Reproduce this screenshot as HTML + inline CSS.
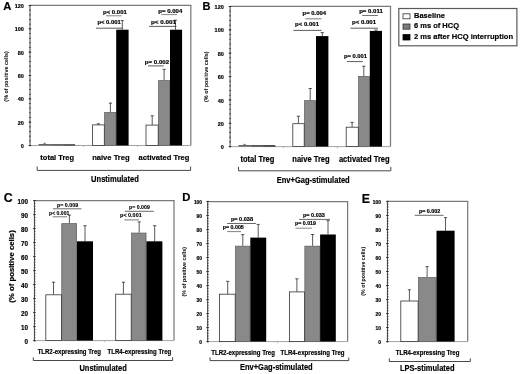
<!DOCTYPE html>
<html><head><meta charset="utf-8"><style>
html,body{margin:0;padding:0;background:#fff;}
body{width:520px;height:374px;overflow:hidden;}
svg{display:block;font-family:"Liberation Sans", sans-serif;will-change:transform;}
</style></head><body>
<svg width="520" height="374" viewBox="0 0 520 374" font-family='"Liberation Sans", sans-serif'>
<rect x="0" y="0" width="520" height="374" fill="#fff"/>
<line x1="30.00" y1="5.40" x2="191.40" y2="5.40" stroke="#7a7a7a" stroke-width="1.25"/>
<line x1="190.80" y1="5.40" x2="190.80" y2="145.50" stroke="#7a7a7a" stroke-width="1.25"/>
<line x1="30.00" y1="145.50" x2="190.80" y2="145.50" stroke="#9a9a9a" stroke-width="0.9"/>
<line x1="30.00" y1="5.00" x2="30.00" y2="146.30" stroke="#444" stroke-width="1.0"/>
<line x1="29.20" y1="145.50" x2="30.80" y2="145.50" stroke="#222" stroke-width="0.8"/>
<line x1="29.20" y1="140.83" x2="30.80" y2="140.83" stroke="#222" stroke-width="0.8"/>
<line x1="29.20" y1="136.17" x2="30.80" y2="136.17" stroke="#222" stroke-width="0.8"/>
<line x1="29.20" y1="131.50" x2="30.80" y2="131.50" stroke="#222" stroke-width="0.8"/>
<line x1="29.20" y1="126.83" x2="30.80" y2="126.83" stroke="#222" stroke-width="0.8"/>
<line x1="29.20" y1="122.17" x2="30.80" y2="122.17" stroke="#222" stroke-width="0.8"/>
<line x1="29.20" y1="117.50" x2="30.80" y2="117.50" stroke="#222" stroke-width="0.8"/>
<line x1="29.20" y1="112.83" x2="30.80" y2="112.83" stroke="#222" stroke-width="0.8"/>
<line x1="29.20" y1="108.17" x2="30.80" y2="108.17" stroke="#222" stroke-width="0.8"/>
<line x1="29.20" y1="103.50" x2="30.80" y2="103.50" stroke="#222" stroke-width="0.8"/>
<line x1="29.20" y1="98.83" x2="30.80" y2="98.83" stroke="#222" stroke-width="0.8"/>
<line x1="29.20" y1="94.17" x2="30.80" y2="94.17" stroke="#222" stroke-width="0.8"/>
<line x1="29.20" y1="89.50" x2="30.80" y2="89.50" stroke="#222" stroke-width="0.8"/>
<line x1="29.20" y1="84.83" x2="30.80" y2="84.83" stroke="#222" stroke-width="0.8"/>
<line x1="29.20" y1="80.17" x2="30.80" y2="80.17" stroke="#222" stroke-width="0.8"/>
<line x1="29.20" y1="75.50" x2="30.80" y2="75.50" stroke="#222" stroke-width="0.8"/>
<line x1="29.20" y1="70.83" x2="30.80" y2="70.83" stroke="#222" stroke-width="0.8"/>
<line x1="29.20" y1="66.17" x2="30.80" y2="66.17" stroke="#222" stroke-width="0.8"/>
<line x1="29.20" y1="61.50" x2="30.80" y2="61.50" stroke="#222" stroke-width="0.8"/>
<line x1="29.20" y1="56.83" x2="30.80" y2="56.83" stroke="#222" stroke-width="0.8"/>
<line x1="29.20" y1="52.17" x2="30.80" y2="52.17" stroke="#222" stroke-width="0.8"/>
<line x1="29.20" y1="47.50" x2="30.80" y2="47.50" stroke="#222" stroke-width="0.8"/>
<line x1="29.20" y1="42.83" x2="30.80" y2="42.83" stroke="#222" stroke-width="0.8"/>
<line x1="29.20" y1="38.17" x2="30.80" y2="38.17" stroke="#222" stroke-width="0.8"/>
<line x1="29.20" y1="33.50" x2="30.80" y2="33.50" stroke="#222" stroke-width="0.8"/>
<line x1="29.20" y1="28.83" x2="30.80" y2="28.83" stroke="#222" stroke-width="0.8"/>
<line x1="29.20" y1="24.17" x2="30.80" y2="24.17" stroke="#222" stroke-width="0.8"/>
<line x1="29.20" y1="19.50" x2="30.80" y2="19.50" stroke="#222" stroke-width="0.8"/>
<line x1="29.20" y1="14.83" x2="30.80" y2="14.83" stroke="#222" stroke-width="0.8"/>
<line x1="29.20" y1="10.17" x2="30.80" y2="10.17" stroke="#222" stroke-width="0.8"/>
<line x1="29.20" y1="5.50" x2="30.80" y2="5.50" stroke="#222" stroke-width="0.8"/>
<line x1="28.60" y1="145.50" x2="31.20" y2="145.50" stroke="#222" stroke-width="0.8"/>
<text x="23.90" y="148.10" font-size="5.5" font-weight="bold" text-anchor="end" fill="#000" stroke="#000" stroke-width="0.18">0</text>
<line x1="28.60" y1="122.17" x2="31.20" y2="122.17" stroke="#222" stroke-width="0.8"/>
<text x="23.90" y="124.77" font-size="5.5" font-weight="bold" text-anchor="end" fill="#000" stroke="#000" stroke-width="0.18">20</text>
<line x1="28.60" y1="98.83" x2="31.20" y2="98.83" stroke="#222" stroke-width="0.8"/>
<text x="23.90" y="101.43" font-size="5.5" font-weight="bold" text-anchor="end" fill="#000" stroke="#000" stroke-width="0.18">40</text>
<line x1="28.60" y1="75.50" x2="31.20" y2="75.50" stroke="#222" stroke-width="0.8"/>
<text x="23.90" y="78.10" font-size="5.5" font-weight="bold" text-anchor="end" fill="#000" stroke="#000" stroke-width="0.18">60</text>
<line x1="28.60" y1="52.17" x2="31.20" y2="52.17" stroke="#222" stroke-width="0.8"/>
<text x="23.90" y="54.77" font-size="5.5" font-weight="bold" text-anchor="end" fill="#000" stroke="#000" stroke-width="0.18">80</text>
<line x1="28.60" y1="28.83" x2="31.20" y2="28.83" stroke="#222" stroke-width="0.8"/>
<text x="23.90" y="31.43" font-size="5.5" font-weight="bold" text-anchor="end" fill="#000" stroke="#000" stroke-width="0.18">100</text>
<line x1="28.60" y1="5.50" x2="31.20" y2="5.50" stroke="#222" stroke-width="0.8"/>
<text x="23.90" y="8.10" font-size="5.5" font-weight="bold" text-anchor="end" fill="#000" stroke="#000" stroke-width="0.18">120</text>
<text x="3.30" y="10.10" font-size="11.2" font-weight="bold" text-anchor="start" fill="#000" stroke="#000" stroke-width="0.18">A</text>
<text x="8.00" y="76.40" font-size="5.5" font-weight="bold" text-anchor="middle" fill="#000" textLength="50.50" lengthAdjust="spacingAndGlyphs" transform="rotate(-90 8.00 76.40)">(% of positive cells)</text>
<rect x="38.60" y="144.00" width="12.20" height="1.50" fill="#666" stroke="none" stroke-width="0.8"/>
<rect x="50.80" y="144.20" width="12.10" height="1.30" fill="#444" stroke="none" stroke-width="0.8"/>
<rect x="62.90" y="144.30" width="12.20" height="1.20" fill="#222" stroke="none" stroke-width="0.8"/>
<line x1="44.60" y1="143.30" x2="44.60" y2="144.00" stroke="#555" stroke-width="0.75"/>
<line x1="43.40" y1="143.30" x2="45.80" y2="143.30" stroke="#555" stroke-width="0.75"/>
<line x1="98.40" y1="123.80" x2="98.40" y2="125.00" stroke="#222" stroke-width="0.75"/>
<line x1="96.80" y1="123.80" x2="100.00" y2="123.80" stroke="#222" stroke-width="0.75"/>
<line x1="110.40" y1="103.10" x2="110.40" y2="112.10" stroke="#222" stroke-width="0.75"/>
<line x1="108.80" y1="103.10" x2="112.00" y2="103.10" stroke="#222" stroke-width="0.75"/>
<line x1="122.30" y1="20.60" x2="122.30" y2="29.70" stroke="#222" stroke-width="0.75"/>
<line x1="120.70" y1="20.60" x2="123.90" y2="20.60" stroke="#222" stroke-width="0.75"/>
<rect x="104.65" y="112.45" width="11.20" height="33.05" fill="#898989" stroke="#5a5a5a" stroke-width="0.7"/>
<rect x="116.20" y="29.70" width="12.40" height="115.80" fill="#000" stroke="none" stroke-width="0.8"/>
<rect x="92.50" y="124.90" width="11.80" height="20.60" fill="#fff" stroke="#333" stroke-width="0.8"/>
<line x1="152.20" y1="115.80" x2="152.20" y2="125.20" stroke="#222" stroke-width="0.75"/>
<line x1="150.60" y1="115.80" x2="153.80" y2="115.80" stroke="#222" stroke-width="0.75"/>
<line x1="164.10" y1="69.30" x2="164.10" y2="80.40" stroke="#222" stroke-width="0.75"/>
<line x1="162.50" y1="69.30" x2="165.70" y2="69.30" stroke="#222" stroke-width="0.75"/>
<line x1="175.50" y1="20.20" x2="175.50" y2="29.70" stroke="#222" stroke-width="0.75"/>
<line x1="173.90" y1="20.20" x2="177.10" y2="20.20" stroke="#222" stroke-width="0.75"/>
<rect x="158.55" y="80.65" width="11.10" height="64.85" fill="#898989" stroke="#5a5a5a" stroke-width="0.7"/>
<rect x="170.00" y="29.70" width="12.10" height="115.80" fill="#000" stroke="none" stroke-width="0.8"/>
<rect x="146.00" y="125.10" width="12.20" height="20.40" fill="#fff" stroke="#333" stroke-width="0.8"/>
<line x1="83.50" y1="145.50" x2="83.50" y2="147.00" stroke="#999" stroke-width="0.7"/>
<line x1="137.50" y1="145.50" x2="137.50" y2="147.00" stroke="#999" stroke-width="0.7"/>
<text x="103.00" y="14.30" font-size="5.6" font-weight="bold" text-anchor="start" fill="#000" stroke="#000" stroke-width="0.18" textLength="23.80" lengthAdjust="spacingAndGlyphs">p&lt; 0.001</text>
<line x1="106.00" y1="15.80" x2="121.60" y2="15.80" stroke="#666" stroke-width="0.8"/>
<text x="97.40" y="23.70" font-size="5.6" font-weight="bold" text-anchor="start" fill="#000" stroke="#000" stroke-width="0.18" textLength="23.30" lengthAdjust="spacingAndGlyphs">p&lt; 0.001</text>
<line x1="95.90" y1="28.20" x2="122.70" y2="28.20" stroke="#333" stroke-width="0.8"/>
<text x="158.30" y="13.10" font-size="5.6" font-weight="bold" text-anchor="start" fill="#000" stroke="#000" stroke-width="0.18" textLength="24.00" lengthAdjust="spacingAndGlyphs">p= 0.004</text>
<line x1="161.20" y1="14.60" x2="177.00" y2="14.60" stroke="#666" stroke-width="0.8"/>
<text x="151.00" y="24.10" font-size="5.6" font-weight="bold" text-anchor="start" fill="#000" stroke="#000" stroke-width="0.18" textLength="25.00" lengthAdjust="spacingAndGlyphs">p&lt; 0.001</text>
<line x1="149.10" y1="26.40" x2="176.50" y2="26.40" stroke="#333" stroke-width="0.8"/>
<text x="144.80" y="64.10" font-size="5.6" font-weight="bold" text-anchor="start" fill="#000" stroke="#000" stroke-width="0.18" textLength="24.30" lengthAdjust="spacingAndGlyphs">p= 0.002</text>
<line x1="148.00" y1="65.90" x2="163.70" y2="65.90" stroke="#333" stroke-width="0.8"/>
<text x="57.20" y="160.30" font-size="8.1" font-weight="bold" text-anchor="middle" fill="#000" stroke="#000" stroke-width="0.18" textLength="33.70" lengthAdjust="spacingAndGlyphs">total Treg</text>
<text x="110.90" y="160.30" font-size="8.1" font-weight="bold" text-anchor="middle" fill="#000" stroke="#000" stroke-width="0.18" textLength="37.50" lengthAdjust="spacingAndGlyphs">naive Treg</text>
<text x="164.00" y="160.30" font-size="8.1" font-weight="bold" text-anchor="middle" fill="#000" stroke="#000" stroke-width="0.18" textLength="50.90" lengthAdjust="spacingAndGlyphs">activated Treg</text>
<line x1="37.20" y1="166.60" x2="37.20" y2="170.40" stroke="#333" stroke-width="0.9"/>
<line x1="190.60" y1="166.60" x2="190.60" y2="170.40" stroke="#333" stroke-width="0.9"/>
<line x1="37.20" y1="170.40" x2="190.60" y2="170.40" stroke="#333" stroke-width="0.9"/>
<text x="115.00" y="182.20" font-size="8.3" font-weight="bold" text-anchor="middle" fill="#000" stroke="#000" stroke-width="0.18" textLength="47.80" lengthAdjust="spacingAndGlyphs">Unstimulated</text>
<line x1="230.10" y1="6.40" x2="391.10" y2="6.40" stroke="#7a7a7a" stroke-width="1.25"/>
<line x1="390.50" y1="6.40" x2="390.50" y2="146.60" stroke="#7a7a7a" stroke-width="1.25"/>
<line x1="230.10" y1="146.60" x2="390.50" y2="146.60" stroke="#9a9a9a" stroke-width="0.9"/>
<line x1="230.10" y1="6.00" x2="230.10" y2="147.40" stroke="#444" stroke-width="1.0"/>
<line x1="229.30" y1="146.60" x2="230.90" y2="146.60" stroke="#222" stroke-width="0.8"/>
<line x1="229.30" y1="141.93" x2="230.90" y2="141.93" stroke="#222" stroke-width="0.8"/>
<line x1="229.30" y1="137.26" x2="230.90" y2="137.26" stroke="#222" stroke-width="0.8"/>
<line x1="229.30" y1="132.59" x2="230.90" y2="132.59" stroke="#222" stroke-width="0.8"/>
<line x1="229.30" y1="127.92" x2="230.90" y2="127.92" stroke="#222" stroke-width="0.8"/>
<line x1="229.30" y1="123.25" x2="230.90" y2="123.25" stroke="#222" stroke-width="0.8"/>
<line x1="229.30" y1="118.58" x2="230.90" y2="118.58" stroke="#222" stroke-width="0.8"/>
<line x1="229.30" y1="113.91" x2="230.90" y2="113.91" stroke="#222" stroke-width="0.8"/>
<line x1="229.30" y1="109.24" x2="230.90" y2="109.24" stroke="#222" stroke-width="0.8"/>
<line x1="229.30" y1="104.57" x2="230.90" y2="104.57" stroke="#222" stroke-width="0.8"/>
<line x1="229.30" y1="99.90" x2="230.90" y2="99.90" stroke="#222" stroke-width="0.8"/>
<line x1="229.30" y1="95.23" x2="230.90" y2="95.23" stroke="#222" stroke-width="0.8"/>
<line x1="229.30" y1="90.56" x2="230.90" y2="90.56" stroke="#222" stroke-width="0.8"/>
<line x1="229.30" y1="85.89" x2="230.90" y2="85.89" stroke="#222" stroke-width="0.8"/>
<line x1="229.30" y1="81.22" x2="230.90" y2="81.22" stroke="#222" stroke-width="0.8"/>
<line x1="229.30" y1="76.55" x2="230.90" y2="76.55" stroke="#222" stroke-width="0.8"/>
<line x1="229.30" y1="71.88" x2="230.90" y2="71.88" stroke="#222" stroke-width="0.8"/>
<line x1="229.30" y1="67.21" x2="230.90" y2="67.21" stroke="#222" stroke-width="0.8"/>
<line x1="229.30" y1="62.54" x2="230.90" y2="62.54" stroke="#222" stroke-width="0.8"/>
<line x1="229.30" y1="57.87" x2="230.90" y2="57.87" stroke="#222" stroke-width="0.8"/>
<line x1="229.30" y1="53.20" x2="230.90" y2="53.20" stroke="#222" stroke-width="0.8"/>
<line x1="229.30" y1="48.53" x2="230.90" y2="48.53" stroke="#222" stroke-width="0.8"/>
<line x1="229.30" y1="43.86" x2="230.90" y2="43.86" stroke="#222" stroke-width="0.8"/>
<line x1="229.30" y1="39.19" x2="230.90" y2="39.19" stroke="#222" stroke-width="0.8"/>
<line x1="229.30" y1="34.52" x2="230.90" y2="34.52" stroke="#222" stroke-width="0.8"/>
<line x1="229.30" y1="29.85" x2="230.90" y2="29.85" stroke="#222" stroke-width="0.8"/>
<line x1="229.30" y1="25.18" x2="230.90" y2="25.18" stroke="#222" stroke-width="0.8"/>
<line x1="229.30" y1="20.51" x2="230.90" y2="20.51" stroke="#222" stroke-width="0.8"/>
<line x1="229.30" y1="15.84" x2="230.90" y2="15.84" stroke="#222" stroke-width="0.8"/>
<line x1="229.30" y1="11.17" x2="230.90" y2="11.17" stroke="#222" stroke-width="0.8"/>
<line x1="229.30" y1="6.50" x2="230.90" y2="6.50" stroke="#222" stroke-width="0.8"/>
<line x1="228.70" y1="146.60" x2="231.30" y2="146.60" stroke="#222" stroke-width="0.8"/>
<text x="223.80" y="149.20" font-size="5.5" font-weight="bold" text-anchor="end" fill="#000" stroke="#000" stroke-width="0.18">0</text>
<line x1="228.70" y1="123.25" x2="231.30" y2="123.25" stroke="#222" stroke-width="0.8"/>
<text x="223.80" y="125.85" font-size="5.5" font-weight="bold" text-anchor="end" fill="#000" stroke="#000" stroke-width="0.18">20</text>
<line x1="228.70" y1="99.90" x2="231.30" y2="99.90" stroke="#222" stroke-width="0.8"/>
<text x="223.80" y="102.50" font-size="5.5" font-weight="bold" text-anchor="end" fill="#000" stroke="#000" stroke-width="0.18">40</text>
<line x1="228.70" y1="76.55" x2="231.30" y2="76.55" stroke="#222" stroke-width="0.8"/>
<text x="223.80" y="79.15" font-size="5.5" font-weight="bold" text-anchor="end" fill="#000" stroke="#000" stroke-width="0.18">60</text>
<line x1="228.70" y1="53.20" x2="231.30" y2="53.20" stroke="#222" stroke-width="0.8"/>
<text x="223.80" y="55.80" font-size="5.5" font-weight="bold" text-anchor="end" fill="#000" stroke="#000" stroke-width="0.18">80</text>
<line x1="228.70" y1="29.85" x2="231.30" y2="29.85" stroke="#222" stroke-width="0.8"/>
<text x="223.80" y="32.45" font-size="5.5" font-weight="bold" text-anchor="end" fill="#000" stroke="#000" stroke-width="0.18">100</text>
<line x1="228.70" y1="6.50" x2="231.30" y2="6.50" stroke="#222" stroke-width="0.8"/>
<text x="223.80" y="9.10" font-size="5.5" font-weight="bold" text-anchor="end" fill="#000" stroke="#000" stroke-width="0.18">120</text>
<text x="202.60" y="10.10" font-size="11.1" font-weight="bold" text-anchor="start" fill="#000" stroke="#000" stroke-width="0.18">B</text>
<text x="208.40" y="76.70" font-size="5.5" font-weight="bold" text-anchor="middle" fill="#000" textLength="50.50" lengthAdjust="spacingAndGlyphs" transform="rotate(-90 208.40 76.70)">(% of positive cells)</text>
<rect x="238.50" y="145.00" width="12.10" height="1.60" fill="#666" stroke="none" stroke-width="0.8"/>
<rect x="250.60" y="145.10" width="12.30" height="1.50" fill="#444" stroke="none" stroke-width="0.8"/>
<rect x="262.90" y="145.20" width="12.40" height="1.40" fill="#222" stroke="none" stroke-width="0.8"/>
<line x1="244.60" y1="144.40" x2="244.60" y2="145.00" stroke="#555" stroke-width="0.75"/>
<line x1="243.40" y1="144.40" x2="245.80" y2="144.40" stroke="#555" stroke-width="0.75"/>
<line x1="298.40" y1="116.20" x2="298.40" y2="123.70" stroke="#222" stroke-width="0.75"/>
<line x1="296.80" y1="116.20" x2="300.00" y2="116.20" stroke="#222" stroke-width="0.75"/>
<line x1="310.20" y1="88.50" x2="310.20" y2="100.30" stroke="#222" stroke-width="0.75"/>
<line x1="308.60" y1="88.50" x2="311.80" y2="88.50" stroke="#222" stroke-width="0.75"/>
<line x1="322.30" y1="32.60" x2="322.30" y2="36.20" stroke="#222" stroke-width="0.75"/>
<line x1="320.70" y1="32.60" x2="323.90" y2="32.60" stroke="#222" stroke-width="0.75"/>
<rect x="304.55" y="100.65" width="11.10" height="45.95" fill="#898989" stroke="#5a5a5a" stroke-width="0.7"/>
<rect x="316.00" y="36.10" width="12.40" height="110.50" fill="#000" stroke="none" stroke-width="0.8"/>
<rect x="292.80" y="123.70" width="11.40" height="22.90" fill="#fff" stroke="#333" stroke-width="0.8"/>
<line x1="352.10" y1="122.40" x2="352.10" y2="127.20" stroke="#222" stroke-width="0.75"/>
<line x1="350.50" y1="122.40" x2="353.70" y2="122.40" stroke="#222" stroke-width="0.75"/>
<line x1="363.80" y1="66.20" x2="363.80" y2="76.10" stroke="#222" stroke-width="0.75"/>
<line x1="362.20" y1="66.20" x2="365.40" y2="66.20" stroke="#222" stroke-width="0.75"/>
<line x1="376.00" y1="30.00" x2="376.00" y2="30.90" stroke="#222" stroke-width="0.75"/>
<line x1="374.40" y1="30.00" x2="377.60" y2="30.00" stroke="#222" stroke-width="0.75"/>
<rect x="358.65" y="76.45" width="10.80" height="70.15" fill="#898989" stroke="#5a5a5a" stroke-width="0.7"/>
<rect x="369.80" y="30.90" width="12.20" height="115.70" fill="#000" stroke="none" stroke-width="0.8"/>
<rect x="346.20" y="127.20" width="12.10" height="19.40" fill="#fff" stroke="#333" stroke-width="0.8"/>
<line x1="283.50" y1="146.60" x2="283.50" y2="148.10" stroke="#999" stroke-width="0.7"/>
<line x1="337.50" y1="146.60" x2="337.50" y2="148.10" stroke="#999" stroke-width="0.7"/>
<text x="302.60" y="15.10" font-size="5.6" font-weight="bold" text-anchor="start" fill="#000" stroke="#000" stroke-width="0.18" textLength="23.40" lengthAdjust="spacingAndGlyphs">p= 0.004</text>
<line x1="305.40" y1="18.80" x2="321.30" y2="18.80" stroke="#555" stroke-width="0.8"/>
<text x="295.10" y="26.00" font-size="5.6" font-weight="bold" text-anchor="start" fill="#000" stroke="#000" stroke-width="0.18" textLength="23.90" lengthAdjust="spacingAndGlyphs">p&lt; 0.001</text>
<line x1="293.30" y1="30.40" x2="321.60" y2="30.40" stroke="#333" stroke-width="0.8"/>
<text x="359.20" y="12.60" font-size="5.6" font-weight="bold" text-anchor="start" fill="#000" stroke="#000" stroke-width="0.18" textLength="23.60" lengthAdjust="spacingAndGlyphs">p= 0.011</text>
<line x1="362.10" y1="15.50" x2="378.00" y2="15.50" stroke="#555" stroke-width="0.8"/>
<text x="352.00" y="23.50" font-size="5.6" font-weight="bold" text-anchor="start" fill="#000" stroke="#000" stroke-width="0.18" textLength="24.00" lengthAdjust="spacingAndGlyphs">p&lt; 0.001</text>
<line x1="350.40" y1="28.20" x2="378.00" y2="28.20" stroke="#333" stroke-width="0.8"/>
<text x="344.10" y="58.40" font-size="5.6" font-weight="bold" text-anchor="start" fill="#000" stroke="#000" stroke-width="0.18" textLength="22.90" lengthAdjust="spacingAndGlyphs">p= 0.001</text>
<line x1="347.00" y1="61.60" x2="363.00" y2="61.60" stroke="#333" stroke-width="0.8"/>
<text x="257.40" y="161.70" font-size="8.3" font-weight="bold" text-anchor="middle" fill="#000" stroke="#000" stroke-width="0.18" textLength="34.00" lengthAdjust="spacingAndGlyphs">total Treg</text>
<text x="311.00" y="161.70" font-size="8.3" font-weight="bold" text-anchor="middle" fill="#000" stroke="#000" stroke-width="0.18" textLength="37.40" lengthAdjust="spacingAndGlyphs">naive Treg</text>
<text x="364.30" y="161.70" font-size="8.3" font-weight="bold" text-anchor="middle" fill="#000" stroke="#000" stroke-width="0.18" textLength="50.80" lengthAdjust="spacingAndGlyphs">activated Treg</text>
<line x1="238.50" y1="166.80" x2="238.50" y2="170.80" stroke="#333" stroke-width="0.9"/>
<line x1="390.80" y1="166.80" x2="390.80" y2="170.80" stroke="#333" stroke-width="0.9"/>
<line x1="238.50" y1="170.80" x2="390.80" y2="170.80" stroke="#333" stroke-width="0.9"/>
<text x="313.20" y="183.00" font-size="8.3" font-weight="bold" text-anchor="middle" fill="#000" stroke="#000" stroke-width="0.18" textLength="73.00" lengthAdjust="spacingAndGlyphs">Env+Gag-stimulated</text>
<rect x="398.80" y="8.50" width="118.10" height="37.30" fill="#fff" stroke="#5a5a5a" stroke-width="1.2"/>
<rect x="403.00" y="13.80" width="7.00" height="5.00" fill="#fff" stroke="#333" stroke-width="0.8"/>
<rect x="403.00" y="24.00" width="7.00" height="5.20" fill="#7a7a7a" stroke="#333" stroke-width="0.8"/>
<rect x="403.00" y="34.60" width="7.00" height="5.40" fill="#000" stroke="#000" stroke-width="0.8"/>
<text x="414.00" y="17.80" font-size="7.5" font-weight="bold" text-anchor="start" fill="#000" stroke="#000" stroke-width="0.18" textLength="30.90" lengthAdjust="spacingAndGlyphs">Baseline</text>
<text x="414.00" y="28.40" font-size="7.5" font-weight="bold" text-anchor="start" fill="#000" stroke="#000" stroke-width="0.18" textLength="45.00" lengthAdjust="spacingAndGlyphs">6 ms of HCQ</text>
<text x="414.00" y="39.20" font-size="7.5" font-weight="bold" text-anchor="start" fill="#000" stroke="#000" stroke-width="0.18" textLength="99.00" lengthAdjust="spacingAndGlyphs">2 ms after HCQ interruption</text>
<line x1="34.40" y1="200.60" x2="174.60" y2="200.60" stroke="#7a7a7a" stroke-width="1.25"/>
<line x1="174.00" y1="200.60" x2="174.00" y2="340.60" stroke="#7a7a7a" stroke-width="1.25"/>
<line x1="34.40" y1="340.60" x2="174.00" y2="340.60" stroke="#9a9a9a" stroke-width="0.9"/>
<line x1="34.40" y1="200.20" x2="34.40" y2="341.40" stroke="#444" stroke-width="1.0"/>
<line x1="34.40" y1="340.60" x2="35.50" y2="340.60" stroke="#222" stroke-width="0.8"/>
<line x1="34.40" y1="337.80" x2="35.50" y2="337.80" stroke="#222" stroke-width="0.8"/>
<line x1="34.40" y1="335.00" x2="35.50" y2="335.00" stroke="#222" stroke-width="0.8"/>
<line x1="34.40" y1="332.20" x2="35.50" y2="332.20" stroke="#222" stroke-width="0.8"/>
<line x1="34.40" y1="329.40" x2="35.50" y2="329.40" stroke="#222" stroke-width="0.8"/>
<line x1="34.40" y1="326.60" x2="35.50" y2="326.60" stroke="#222" stroke-width="0.8"/>
<line x1="34.40" y1="323.80" x2="35.50" y2="323.80" stroke="#222" stroke-width="0.8"/>
<line x1="34.40" y1="321.00" x2="35.50" y2="321.00" stroke="#222" stroke-width="0.8"/>
<line x1="34.40" y1="318.20" x2="35.50" y2="318.20" stroke="#222" stroke-width="0.8"/>
<line x1="34.40" y1="315.40" x2="35.50" y2="315.40" stroke="#222" stroke-width="0.8"/>
<line x1="34.40" y1="312.60" x2="35.50" y2="312.60" stroke="#222" stroke-width="0.8"/>
<line x1="34.40" y1="309.80" x2="35.50" y2="309.80" stroke="#222" stroke-width="0.8"/>
<line x1="34.40" y1="307.00" x2="35.50" y2="307.00" stroke="#222" stroke-width="0.8"/>
<line x1="34.40" y1="304.20" x2="35.50" y2="304.20" stroke="#222" stroke-width="0.8"/>
<line x1="34.40" y1="301.40" x2="35.50" y2="301.40" stroke="#222" stroke-width="0.8"/>
<line x1="34.40" y1="298.60" x2="35.50" y2="298.60" stroke="#222" stroke-width="0.8"/>
<line x1="34.40" y1="295.80" x2="35.50" y2="295.80" stroke="#222" stroke-width="0.8"/>
<line x1="34.40" y1="293.00" x2="35.50" y2="293.00" stroke="#222" stroke-width="0.8"/>
<line x1="34.40" y1="290.20" x2="35.50" y2="290.20" stroke="#222" stroke-width="0.8"/>
<line x1="34.40" y1="287.40" x2="35.50" y2="287.40" stroke="#222" stroke-width="0.8"/>
<line x1="34.40" y1="284.60" x2="35.50" y2="284.60" stroke="#222" stroke-width="0.8"/>
<line x1="34.40" y1="281.80" x2="35.50" y2="281.80" stroke="#222" stroke-width="0.8"/>
<line x1="34.40" y1="279.00" x2="35.50" y2="279.00" stroke="#222" stroke-width="0.8"/>
<line x1="34.40" y1="276.20" x2="35.50" y2="276.20" stroke="#222" stroke-width="0.8"/>
<line x1="34.40" y1="273.40" x2="35.50" y2="273.40" stroke="#222" stroke-width="0.8"/>
<line x1="34.40" y1="270.60" x2="35.50" y2="270.60" stroke="#222" stroke-width="0.8"/>
<line x1="34.40" y1="267.80" x2="35.50" y2="267.80" stroke="#222" stroke-width="0.8"/>
<line x1="34.40" y1="265.00" x2="35.50" y2="265.00" stroke="#222" stroke-width="0.8"/>
<line x1="34.40" y1="262.20" x2="35.50" y2="262.20" stroke="#222" stroke-width="0.8"/>
<line x1="34.40" y1="259.40" x2="35.50" y2="259.40" stroke="#222" stroke-width="0.8"/>
<line x1="34.40" y1="256.60" x2="35.50" y2="256.60" stroke="#222" stroke-width="0.8"/>
<line x1="34.40" y1="253.80" x2="35.50" y2="253.80" stroke="#222" stroke-width="0.8"/>
<line x1="34.40" y1="251.00" x2="35.50" y2="251.00" stroke="#222" stroke-width="0.8"/>
<line x1="34.40" y1="248.20" x2="35.50" y2="248.20" stroke="#222" stroke-width="0.8"/>
<line x1="34.40" y1="245.40" x2="35.50" y2="245.40" stroke="#222" stroke-width="0.8"/>
<line x1="34.40" y1="242.60" x2="35.50" y2="242.60" stroke="#222" stroke-width="0.8"/>
<line x1="34.40" y1="239.80" x2="35.50" y2="239.80" stroke="#222" stroke-width="0.8"/>
<line x1="34.40" y1="237.00" x2="35.50" y2="237.00" stroke="#222" stroke-width="0.8"/>
<line x1="34.40" y1="234.20" x2="35.50" y2="234.20" stroke="#222" stroke-width="0.8"/>
<line x1="34.40" y1="231.40" x2="35.50" y2="231.40" stroke="#222" stroke-width="0.8"/>
<line x1="34.40" y1="228.60" x2="35.50" y2="228.60" stroke="#222" stroke-width="0.8"/>
<line x1="34.40" y1="225.80" x2="35.50" y2="225.80" stroke="#222" stroke-width="0.8"/>
<line x1="34.40" y1="223.00" x2="35.50" y2="223.00" stroke="#222" stroke-width="0.8"/>
<line x1="34.40" y1="220.20" x2="35.50" y2="220.20" stroke="#222" stroke-width="0.8"/>
<line x1="34.40" y1="217.40" x2="35.50" y2="217.40" stroke="#222" stroke-width="0.8"/>
<line x1="34.40" y1="214.60" x2="35.50" y2="214.60" stroke="#222" stroke-width="0.8"/>
<line x1="34.40" y1="211.80" x2="35.50" y2="211.80" stroke="#222" stroke-width="0.8"/>
<line x1="34.40" y1="209.00" x2="35.50" y2="209.00" stroke="#222" stroke-width="0.8"/>
<line x1="34.40" y1="206.20" x2="35.50" y2="206.20" stroke="#222" stroke-width="0.8"/>
<line x1="34.40" y1="203.40" x2="35.50" y2="203.40" stroke="#222" stroke-width="0.8"/>
<line x1="34.40" y1="200.60" x2="35.50" y2="200.60" stroke="#222" stroke-width="0.8"/>
<line x1="33.00" y1="340.60" x2="35.50" y2="340.60" stroke="#222" stroke-width="0.8"/>
<text x="27.90" y="343.80" font-size="6.3" font-weight="bold" text-anchor="end" fill="#000" stroke="#000" stroke-width="0.18">0</text>
<line x1="33.00" y1="326.60" x2="35.50" y2="326.60" stroke="#222" stroke-width="0.8"/>
<text x="27.90" y="329.80" font-size="6.3" font-weight="bold" text-anchor="end" fill="#000" stroke="#000" stroke-width="0.18">10</text>
<line x1="33.00" y1="312.60" x2="35.50" y2="312.60" stroke="#222" stroke-width="0.8"/>
<text x="27.90" y="315.80" font-size="6.3" font-weight="bold" text-anchor="end" fill="#000" stroke="#000" stroke-width="0.18">20</text>
<line x1="33.00" y1="298.60" x2="35.50" y2="298.60" stroke="#222" stroke-width="0.8"/>
<text x="27.90" y="301.80" font-size="6.3" font-weight="bold" text-anchor="end" fill="#000" stroke="#000" stroke-width="0.18">30</text>
<line x1="33.00" y1="284.60" x2="35.50" y2="284.60" stroke="#222" stroke-width="0.8"/>
<text x="27.90" y="287.80" font-size="6.3" font-weight="bold" text-anchor="end" fill="#000" stroke="#000" stroke-width="0.18">40</text>
<line x1="33.00" y1="270.60" x2="35.50" y2="270.60" stroke="#222" stroke-width="0.8"/>
<text x="27.90" y="273.80" font-size="6.3" font-weight="bold" text-anchor="end" fill="#000" stroke="#000" stroke-width="0.18">50</text>
<line x1="33.00" y1="256.60" x2="35.50" y2="256.60" stroke="#222" stroke-width="0.8"/>
<text x="27.90" y="259.80" font-size="6.3" font-weight="bold" text-anchor="end" fill="#000" stroke="#000" stroke-width="0.18">60</text>
<line x1="33.00" y1="242.60" x2="35.50" y2="242.60" stroke="#222" stroke-width="0.8"/>
<text x="27.90" y="245.80" font-size="6.3" font-weight="bold" text-anchor="end" fill="#000" stroke="#000" stroke-width="0.18">70</text>
<line x1="33.00" y1="228.60" x2="35.50" y2="228.60" stroke="#222" stroke-width="0.8"/>
<text x="27.90" y="231.80" font-size="6.3" font-weight="bold" text-anchor="end" fill="#000" stroke="#000" stroke-width="0.18">80</text>
<line x1="33.00" y1="214.60" x2="35.50" y2="214.60" stroke="#222" stroke-width="0.8"/>
<text x="27.90" y="217.80" font-size="6.3" font-weight="bold" text-anchor="end" fill="#000" stroke="#000" stroke-width="0.18">90</text>
<line x1="33.00" y1="200.60" x2="35.50" y2="200.60" stroke="#222" stroke-width="0.8"/>
<text x="27.90" y="203.80" font-size="6.3" font-weight="bold" text-anchor="end" fill="#000" stroke="#000" stroke-width="0.18">100</text>
<text x="3.70" y="201.60" font-size="12.3" font-weight="bold" text-anchor="start" fill="#000" stroke="#000" stroke-width="0.18">C</text>
<text x="13.80" y="266.50" font-size="7.8" font-weight="bold" text-anchor="middle" fill="#000" stroke="#000" stroke-width="0.18" textLength="72.50" lengthAdjust="spacingAndGlyphs" transform="rotate(-90 13.80 266.50)">(% of positive cells)</text>
<line x1="53.50" y1="282.20" x2="53.50" y2="294.80" stroke="#222" stroke-width="0.75"/>
<line x1="51.90" y1="282.20" x2="55.10" y2="282.20" stroke="#222" stroke-width="0.75"/>
<line x1="69.40" y1="215.20" x2="69.40" y2="223.30" stroke="#222" stroke-width="0.75"/>
<line x1="67.80" y1="215.20" x2="71.00" y2="215.20" stroke="#222" stroke-width="0.75"/>
<line x1="85.00" y1="225.70" x2="85.00" y2="241.30" stroke="#222" stroke-width="0.75"/>
<line x1="83.40" y1="225.70" x2="86.60" y2="225.70" stroke="#222" stroke-width="0.75"/>
<rect x="61.75" y="223.65" width="14.90" height="116.95" fill="#898989" stroke="#5a5a5a" stroke-width="0.7"/>
<rect x="77.00" y="241.30" width="16.00" height="99.30" fill="#000" stroke="none" stroke-width="0.8"/>
<rect x="45.80" y="294.80" width="15.60" height="45.80" fill="#fff" stroke="#333" stroke-width="0.8"/>
<line x1="123.40" y1="282.20" x2="123.40" y2="294.20" stroke="#222" stroke-width="0.75"/>
<line x1="121.80" y1="282.20" x2="125.00" y2="282.20" stroke="#222" stroke-width="0.75"/>
<line x1="139.20" y1="221.90" x2="139.20" y2="232.70" stroke="#222" stroke-width="0.75"/>
<line x1="137.60" y1="221.90" x2="140.80" y2="221.90" stroke="#222" stroke-width="0.75"/>
<line x1="154.70" y1="225.70" x2="154.70" y2="241.30" stroke="#222" stroke-width="0.75"/>
<line x1="153.10" y1="225.70" x2="156.30" y2="225.70" stroke="#222" stroke-width="0.75"/>
<rect x="131.55" y="233.05" width="14.50" height="107.55" fill="#898989" stroke="#5a5a5a" stroke-width="0.7"/>
<rect x="146.40" y="241.30" width="16.00" height="99.30" fill="#000" stroke="none" stroke-width="0.8"/>
<rect x="115.70" y="294.20" width="15.50" height="46.40" fill="#fff" stroke="#333" stroke-width="0.8"/>
<line x1="104.30" y1="340.60" x2="104.30" y2="342.10" stroke="#999" stroke-width="0.7"/>
<text x="57.10" y="206.70" font-size="5.3" font-weight="bold" text-anchor="start" fill="#000" stroke="#000" stroke-width="0.12" textLength="21.00" lengthAdjust="spacingAndGlyphs">p= 0.009</text>
<line x1="52.90" y1="208.80" x2="81.50" y2="208.80" stroke="#444" stroke-width="0.8"/>
<text x="49.00" y="215.00" font-size="5.3" font-weight="bold" text-anchor="start" fill="#000" stroke="#000" stroke-width="0.12" textLength="20.40" lengthAdjust="spacingAndGlyphs">p&lt; 0.001</text>
<line x1="52.70" y1="216.80" x2="67.10" y2="216.80" stroke="#555" stroke-width="0.8"/>
<text x="129.10" y="208.80" font-size="5.3" font-weight="bold" text-anchor="start" fill="#000" stroke="#000" stroke-width="0.12" textLength="20.70" lengthAdjust="spacingAndGlyphs">p= 0.009</text>
<line x1="124.90" y1="211.30" x2="153.80" y2="211.30" stroke="#444" stroke-width="0.8"/>
<text x="120.10" y="216.70" font-size="5.3" font-weight="bold" text-anchor="start" fill="#000" stroke="#000" stroke-width="0.12" textLength="21.60" lengthAdjust="spacingAndGlyphs">p&lt; 0.001</text>
<line x1="124.40" y1="219.90" x2="138.80" y2="219.90" stroke="#555" stroke-width="0.8"/>
<text x="69.30" y="353.60" font-size="6.4" font-weight="bold" text-anchor="middle" fill="#000" stroke="#000" stroke-width="0.18" textLength="63.30" lengthAdjust="spacingAndGlyphs">TLR2-expressing Treg</text>
<text x="139.40" y="353.60" font-size="6.4" font-weight="bold" text-anchor="middle" fill="#000" stroke="#000" stroke-width="0.18" textLength="63.70" lengthAdjust="spacingAndGlyphs">TLR4-expressing Treg</text>
<line x1="33.30" y1="357.30" x2="33.30" y2="360.50" stroke="#333" stroke-width="0.9"/>
<line x1="172.60" y1="357.30" x2="172.60" y2="360.50" stroke="#333" stroke-width="0.9"/>
<line x1="33.30" y1="360.50" x2="172.60" y2="360.50" stroke="#333" stroke-width="0.9"/>
<text x="103.10" y="371.00" font-size="8.3" font-weight="bold" text-anchor="middle" fill="#000" stroke="#000" stroke-width="0.18" textLength="47.30" lengthAdjust="spacingAndGlyphs">Unstimulated</text>
<line x1="207.70" y1="201.50" x2="348.20" y2="201.50" stroke="#7a7a7a" stroke-width="1.25"/>
<line x1="347.60" y1="201.50" x2="347.60" y2="341.60" stroke="#7a7a7a" stroke-width="1.25"/>
<line x1="207.70" y1="341.60" x2="347.60" y2="341.60" stroke="#9a9a9a" stroke-width="0.9"/>
<line x1="207.70" y1="201.10" x2="207.70" y2="342.40" stroke="#444" stroke-width="1.0"/>
<line x1="207.00" y1="341.60" x2="208.60" y2="341.60" stroke="#222" stroke-width="0.8"/>
<line x1="207.00" y1="338.80" x2="208.60" y2="338.80" stroke="#222" stroke-width="0.8"/>
<line x1="207.00" y1="335.99" x2="208.60" y2="335.99" stroke="#222" stroke-width="0.8"/>
<line x1="207.00" y1="333.19" x2="208.60" y2="333.19" stroke="#222" stroke-width="0.8"/>
<line x1="207.00" y1="330.39" x2="208.60" y2="330.39" stroke="#222" stroke-width="0.8"/>
<line x1="207.00" y1="327.59" x2="208.60" y2="327.59" stroke="#222" stroke-width="0.8"/>
<line x1="207.00" y1="324.78" x2="208.60" y2="324.78" stroke="#222" stroke-width="0.8"/>
<line x1="207.00" y1="321.98" x2="208.60" y2="321.98" stroke="#222" stroke-width="0.8"/>
<line x1="207.00" y1="319.18" x2="208.60" y2="319.18" stroke="#222" stroke-width="0.8"/>
<line x1="207.00" y1="316.37" x2="208.60" y2="316.37" stroke="#222" stroke-width="0.8"/>
<line x1="207.00" y1="313.57" x2="208.60" y2="313.57" stroke="#222" stroke-width="0.8"/>
<line x1="207.00" y1="310.77" x2="208.60" y2="310.77" stroke="#222" stroke-width="0.8"/>
<line x1="207.00" y1="307.96" x2="208.60" y2="307.96" stroke="#222" stroke-width="0.8"/>
<line x1="207.00" y1="305.16" x2="208.60" y2="305.16" stroke="#222" stroke-width="0.8"/>
<line x1="207.00" y1="302.36" x2="208.60" y2="302.36" stroke="#222" stroke-width="0.8"/>
<line x1="207.00" y1="299.56" x2="208.60" y2="299.56" stroke="#222" stroke-width="0.8"/>
<line x1="207.00" y1="296.75" x2="208.60" y2="296.75" stroke="#222" stroke-width="0.8"/>
<line x1="207.00" y1="293.95" x2="208.60" y2="293.95" stroke="#222" stroke-width="0.8"/>
<line x1="207.00" y1="291.15" x2="208.60" y2="291.15" stroke="#222" stroke-width="0.8"/>
<line x1="207.00" y1="288.34" x2="208.60" y2="288.34" stroke="#222" stroke-width="0.8"/>
<line x1="207.00" y1="285.54" x2="208.60" y2="285.54" stroke="#222" stroke-width="0.8"/>
<line x1="207.00" y1="282.74" x2="208.60" y2="282.74" stroke="#222" stroke-width="0.8"/>
<line x1="207.00" y1="279.93" x2="208.60" y2="279.93" stroke="#222" stroke-width="0.8"/>
<line x1="207.00" y1="277.13" x2="208.60" y2="277.13" stroke="#222" stroke-width="0.8"/>
<line x1="207.00" y1="274.33" x2="208.60" y2="274.33" stroke="#222" stroke-width="0.8"/>
<line x1="207.00" y1="271.52" x2="208.60" y2="271.52" stroke="#222" stroke-width="0.8"/>
<line x1="207.00" y1="268.72" x2="208.60" y2="268.72" stroke="#222" stroke-width="0.8"/>
<line x1="207.00" y1="265.92" x2="208.60" y2="265.92" stroke="#222" stroke-width="0.8"/>
<line x1="207.00" y1="263.12" x2="208.60" y2="263.12" stroke="#222" stroke-width="0.8"/>
<line x1="207.00" y1="260.31" x2="208.60" y2="260.31" stroke="#222" stroke-width="0.8"/>
<line x1="207.00" y1="257.51" x2="208.60" y2="257.51" stroke="#222" stroke-width="0.8"/>
<line x1="207.00" y1="254.71" x2="208.60" y2="254.71" stroke="#222" stroke-width="0.8"/>
<line x1="207.00" y1="251.90" x2="208.60" y2="251.90" stroke="#222" stroke-width="0.8"/>
<line x1="207.00" y1="249.10" x2="208.60" y2="249.10" stroke="#222" stroke-width="0.8"/>
<line x1="207.00" y1="246.30" x2="208.60" y2="246.30" stroke="#222" stroke-width="0.8"/>
<line x1="207.00" y1="243.50" x2="208.60" y2="243.50" stroke="#222" stroke-width="0.8"/>
<line x1="207.00" y1="240.69" x2="208.60" y2="240.69" stroke="#222" stroke-width="0.8"/>
<line x1="207.00" y1="237.89" x2="208.60" y2="237.89" stroke="#222" stroke-width="0.8"/>
<line x1="207.00" y1="235.09" x2="208.60" y2="235.09" stroke="#222" stroke-width="0.8"/>
<line x1="207.00" y1="232.28" x2="208.60" y2="232.28" stroke="#222" stroke-width="0.8"/>
<line x1="207.00" y1="229.48" x2="208.60" y2="229.48" stroke="#222" stroke-width="0.8"/>
<line x1="207.00" y1="226.68" x2="208.60" y2="226.68" stroke="#222" stroke-width="0.8"/>
<line x1="207.00" y1="223.87" x2="208.60" y2="223.87" stroke="#222" stroke-width="0.8"/>
<line x1="207.00" y1="221.07" x2="208.60" y2="221.07" stroke="#222" stroke-width="0.8"/>
<line x1="207.00" y1="218.27" x2="208.60" y2="218.27" stroke="#222" stroke-width="0.8"/>
<line x1="207.00" y1="215.46" x2="208.60" y2="215.46" stroke="#222" stroke-width="0.8"/>
<line x1="207.00" y1="212.66" x2="208.60" y2="212.66" stroke="#222" stroke-width="0.8"/>
<line x1="207.00" y1="209.86" x2="208.60" y2="209.86" stroke="#222" stroke-width="0.8"/>
<line x1="207.00" y1="207.06" x2="208.60" y2="207.06" stroke="#222" stroke-width="0.8"/>
<line x1="207.00" y1="204.25" x2="208.60" y2="204.25" stroke="#222" stroke-width="0.8"/>
<line x1="207.00" y1="201.45" x2="208.60" y2="201.45" stroke="#222" stroke-width="0.8"/>
<line x1="206.30" y1="341.60" x2="208.80" y2="341.60" stroke="#222" stroke-width="0.8"/>
<text x="201.90" y="344.00" font-size="4.8" font-weight="bold" text-anchor="end" fill="#000" stroke="#000" stroke-width="0.18">0</text>
<line x1="206.30" y1="327.59" x2="208.80" y2="327.59" stroke="#222" stroke-width="0.8"/>
<text x="201.90" y="329.99" font-size="4.8" font-weight="bold" text-anchor="end" fill="#000" stroke="#000" stroke-width="0.18">10</text>
<line x1="206.30" y1="313.57" x2="208.80" y2="313.57" stroke="#222" stroke-width="0.8"/>
<text x="201.90" y="315.97" font-size="4.8" font-weight="bold" text-anchor="end" fill="#000" stroke="#000" stroke-width="0.18">20</text>
<line x1="206.30" y1="299.56" x2="208.80" y2="299.56" stroke="#222" stroke-width="0.8"/>
<text x="201.90" y="301.95" font-size="4.8" font-weight="bold" text-anchor="end" fill="#000" stroke="#000" stroke-width="0.18">30</text>
<line x1="206.30" y1="285.54" x2="208.80" y2="285.54" stroke="#222" stroke-width="0.8"/>
<text x="201.90" y="287.94" font-size="4.8" font-weight="bold" text-anchor="end" fill="#000" stroke="#000" stroke-width="0.18">40</text>
<line x1="206.30" y1="271.52" x2="208.80" y2="271.52" stroke="#222" stroke-width="0.8"/>
<text x="201.90" y="273.92" font-size="4.8" font-weight="bold" text-anchor="end" fill="#000" stroke="#000" stroke-width="0.18">50</text>
<line x1="206.30" y1="257.51" x2="208.80" y2="257.51" stroke="#222" stroke-width="0.8"/>
<text x="201.90" y="259.91" font-size="4.8" font-weight="bold" text-anchor="end" fill="#000" stroke="#000" stroke-width="0.18">60</text>
<line x1="206.30" y1="243.50" x2="208.80" y2="243.50" stroke="#222" stroke-width="0.8"/>
<text x="201.90" y="245.90" font-size="4.8" font-weight="bold" text-anchor="end" fill="#000" stroke="#000" stroke-width="0.18">70</text>
<line x1="206.30" y1="229.48" x2="208.80" y2="229.48" stroke="#222" stroke-width="0.8"/>
<text x="201.90" y="231.88" font-size="4.8" font-weight="bold" text-anchor="end" fill="#000" stroke="#000" stroke-width="0.18">80</text>
<line x1="206.30" y1="215.46" x2="208.80" y2="215.46" stroke="#222" stroke-width="0.8"/>
<text x="201.90" y="217.86" font-size="4.8" font-weight="bold" text-anchor="end" fill="#000" stroke="#000" stroke-width="0.18">90</text>
<line x1="206.30" y1="201.45" x2="208.80" y2="201.45" stroke="#222" stroke-width="0.8"/>
<text x="201.90" y="203.85" font-size="4.8" font-weight="bold" text-anchor="end" fill="#000" stroke="#000" stroke-width="0.18">100</text>
<text x="182.30" y="201.00" font-size="11.3" font-weight="bold" text-anchor="start" fill="#000" stroke="#000" stroke-width="0.18">D</text>
<text x="186.00" y="271.70" font-size="5.6" font-weight="bold" text-anchor="middle" fill="#000" textLength="49.40" lengthAdjust="spacingAndGlyphs" transform="rotate(-90 186.00 271.70)">(% of positive cells)</text>
<line x1="227.70" y1="281.30" x2="227.70" y2="294.20" stroke="#222" stroke-width="0.75"/>
<line x1="226.10" y1="281.30" x2="229.30" y2="281.30" stroke="#222" stroke-width="0.75"/>
<line x1="242.80" y1="234.60" x2="242.80" y2="245.80" stroke="#222" stroke-width="0.75"/>
<line x1="241.20" y1="234.60" x2="244.40" y2="234.60" stroke="#222" stroke-width="0.75"/>
<line x1="258.20" y1="224.40" x2="258.20" y2="237.60" stroke="#222" stroke-width="0.75"/>
<line x1="256.60" y1="224.40" x2="259.80" y2="224.40" stroke="#222" stroke-width="0.75"/>
<rect x="235.55" y="246.15" width="14.40" height="95.45" fill="#898989" stroke="#5a5a5a" stroke-width="0.7"/>
<rect x="250.30" y="237.60" width="15.90" height="104.00" fill="#000" stroke="none" stroke-width="0.8"/>
<rect x="219.50" y="294.20" width="15.70" height="47.40" fill="#fff" stroke="#333" stroke-width="0.8"/>
<line x1="296.90" y1="278.80" x2="296.90" y2="291.90" stroke="#222" stroke-width="0.75"/>
<line x1="295.30" y1="278.80" x2="298.50" y2="278.80" stroke="#222" stroke-width="0.75"/>
<line x1="312.60" y1="234.50" x2="312.60" y2="245.80" stroke="#222" stroke-width="0.75"/>
<line x1="311.00" y1="234.50" x2="314.20" y2="234.50" stroke="#222" stroke-width="0.75"/>
<line x1="328.00" y1="220.70" x2="328.00" y2="234.50" stroke="#222" stroke-width="0.75"/>
<line x1="326.40" y1="220.70" x2="329.60" y2="220.70" stroke="#222" stroke-width="0.75"/>
<rect x="304.85" y="246.15" width="14.90" height="95.45" fill="#898989" stroke="#5a5a5a" stroke-width="0.7"/>
<rect x="320.10" y="234.50" width="15.70" height="107.10" fill="#000" stroke="none" stroke-width="0.8"/>
<rect x="289.50" y="291.90" width="15.00" height="49.70" fill="#fff" stroke="#333" stroke-width="0.8"/>
<line x1="277.50" y1="341.60" x2="277.50" y2="343.10" stroke="#999" stroke-width="0.7"/>
<text x="230.90" y="221.20" font-size="5.6" font-weight="bold" text-anchor="start" fill="#000" stroke="#000" stroke-width="0.18" textLength="22.20" lengthAdjust="spacingAndGlyphs">p= 0.038</text>
<line x1="227.10" y1="223.50" x2="255.90" y2="223.50" stroke="#444" stroke-width="0.8"/>
<text x="222.80" y="229.30" font-size="5.6" font-weight="bold" text-anchor="start" fill="#000" stroke="#000" stroke-width="0.18" textLength="21.00" lengthAdjust="spacingAndGlyphs">p= 0.005</text>
<line x1="227.10" y1="231.60" x2="241.00" y2="231.60" stroke="#666" stroke-width="0.8"/>
<text x="303.00" y="216.90" font-size="5.6" font-weight="bold" text-anchor="start" fill="#000" stroke="#000" stroke-width="0.18" textLength="21.90" lengthAdjust="spacingAndGlyphs">p= 0.033</text>
<line x1="299.20" y1="219.40" x2="330.00" y2="219.40" stroke="#444" stroke-width="0.8"/>
<text x="295.00" y="225.20" font-size="5.6" font-weight="bold" text-anchor="start" fill="#000" stroke="#000" stroke-width="0.18" textLength="21.00" lengthAdjust="spacingAndGlyphs">p= 0.019</text>
<line x1="295.50" y1="228.20" x2="311.80" y2="228.20" stroke="#666" stroke-width="0.8"/>
<text x="243.10" y="354.50" font-size="6.4" font-weight="bold" text-anchor="middle" fill="#000" stroke="#000" stroke-width="0.18" textLength="63.70" lengthAdjust="spacingAndGlyphs">TLR2-expressing Treg</text>
<text x="312.50" y="354.50" font-size="6.4" font-weight="bold" text-anchor="middle" fill="#000" stroke="#000" stroke-width="0.18" textLength="64.00" lengthAdjust="spacingAndGlyphs">TLR4-expressing Treg</text>
<line x1="210.00" y1="357.50" x2="210.00" y2="360.60" stroke="#333" stroke-width="0.9"/>
<line x1="348.80" y1="357.50" x2="348.80" y2="360.60" stroke="#333" stroke-width="0.9"/>
<line x1="210.00" y1="360.60" x2="348.80" y2="360.60" stroke="#333" stroke-width="0.9"/>
<text x="276.30" y="370.00" font-size="8.3" font-weight="bold" text-anchor="middle" fill="#000" stroke="#000" stroke-width="0.18" textLength="72.80" lengthAdjust="spacingAndGlyphs">Env+Gag-stimulated</text>
<line x1="387.40" y1="201.40" x2="468.30" y2="201.40" stroke="#7a7a7a" stroke-width="1.25"/>
<line x1="467.70" y1="201.40" x2="467.70" y2="341.60" stroke="#7a7a7a" stroke-width="1.25"/>
<line x1="387.40" y1="341.60" x2="467.70" y2="341.60" stroke="#9a9a9a" stroke-width="0.9"/>
<line x1="387.40" y1="201.00" x2="387.40" y2="342.40" stroke="#444" stroke-width="1.0"/>
<line x1="387.10" y1="341.60" x2="388.50" y2="341.60" stroke="#222" stroke-width="0.8"/>
<line x1="387.10" y1="338.80" x2="388.50" y2="338.80" stroke="#222" stroke-width="0.8"/>
<line x1="387.10" y1="335.99" x2="388.50" y2="335.99" stroke="#222" stroke-width="0.8"/>
<line x1="387.10" y1="333.19" x2="388.50" y2="333.19" stroke="#222" stroke-width="0.8"/>
<line x1="387.10" y1="330.38" x2="388.50" y2="330.38" stroke="#222" stroke-width="0.8"/>
<line x1="387.10" y1="327.58" x2="388.50" y2="327.58" stroke="#222" stroke-width="0.8"/>
<line x1="387.10" y1="324.78" x2="388.50" y2="324.78" stroke="#222" stroke-width="0.8"/>
<line x1="387.10" y1="321.97" x2="388.50" y2="321.97" stroke="#222" stroke-width="0.8"/>
<line x1="387.10" y1="319.17" x2="388.50" y2="319.17" stroke="#222" stroke-width="0.8"/>
<line x1="387.10" y1="316.36" x2="388.50" y2="316.36" stroke="#222" stroke-width="0.8"/>
<line x1="387.10" y1="313.56" x2="388.50" y2="313.56" stroke="#222" stroke-width="0.8"/>
<line x1="387.10" y1="310.76" x2="388.50" y2="310.76" stroke="#222" stroke-width="0.8"/>
<line x1="387.10" y1="307.95" x2="388.50" y2="307.95" stroke="#222" stroke-width="0.8"/>
<line x1="387.10" y1="305.15" x2="388.50" y2="305.15" stroke="#222" stroke-width="0.8"/>
<line x1="387.10" y1="302.34" x2="388.50" y2="302.34" stroke="#222" stroke-width="0.8"/>
<line x1="387.10" y1="299.54" x2="388.50" y2="299.54" stroke="#222" stroke-width="0.8"/>
<line x1="387.10" y1="296.74" x2="388.50" y2="296.74" stroke="#222" stroke-width="0.8"/>
<line x1="387.10" y1="293.93" x2="388.50" y2="293.93" stroke="#222" stroke-width="0.8"/>
<line x1="387.10" y1="291.13" x2="388.50" y2="291.13" stroke="#222" stroke-width="0.8"/>
<line x1="387.10" y1="288.32" x2="388.50" y2="288.32" stroke="#222" stroke-width="0.8"/>
<line x1="387.10" y1="285.52" x2="388.50" y2="285.52" stroke="#222" stroke-width="0.8"/>
<line x1="387.10" y1="282.72" x2="388.50" y2="282.72" stroke="#222" stroke-width="0.8"/>
<line x1="387.10" y1="279.91" x2="388.50" y2="279.91" stroke="#222" stroke-width="0.8"/>
<line x1="387.10" y1="277.11" x2="388.50" y2="277.11" stroke="#222" stroke-width="0.8"/>
<line x1="387.10" y1="274.30" x2="388.50" y2="274.30" stroke="#222" stroke-width="0.8"/>
<line x1="387.10" y1="271.50" x2="388.50" y2="271.50" stroke="#222" stroke-width="0.8"/>
<line x1="387.10" y1="268.70" x2="388.50" y2="268.70" stroke="#222" stroke-width="0.8"/>
<line x1="387.10" y1="265.89" x2="388.50" y2="265.89" stroke="#222" stroke-width="0.8"/>
<line x1="387.10" y1="263.09" x2="388.50" y2="263.09" stroke="#222" stroke-width="0.8"/>
<line x1="387.10" y1="260.28" x2="388.50" y2="260.28" stroke="#222" stroke-width="0.8"/>
<line x1="387.10" y1="257.48" x2="388.50" y2="257.48" stroke="#222" stroke-width="0.8"/>
<line x1="387.10" y1="254.68" x2="388.50" y2="254.68" stroke="#222" stroke-width="0.8"/>
<line x1="387.10" y1="251.87" x2="388.50" y2="251.87" stroke="#222" stroke-width="0.8"/>
<line x1="387.10" y1="249.07" x2="388.50" y2="249.07" stroke="#222" stroke-width="0.8"/>
<line x1="387.10" y1="246.26" x2="388.50" y2="246.26" stroke="#222" stroke-width="0.8"/>
<line x1="387.10" y1="243.46" x2="388.50" y2="243.46" stroke="#222" stroke-width="0.8"/>
<line x1="387.10" y1="240.66" x2="388.50" y2="240.66" stroke="#222" stroke-width="0.8"/>
<line x1="387.10" y1="237.85" x2="388.50" y2="237.85" stroke="#222" stroke-width="0.8"/>
<line x1="387.10" y1="235.05" x2="388.50" y2="235.05" stroke="#222" stroke-width="0.8"/>
<line x1="387.10" y1="232.24" x2="388.50" y2="232.24" stroke="#222" stroke-width="0.8"/>
<line x1="387.10" y1="229.44" x2="388.50" y2="229.44" stroke="#222" stroke-width="0.8"/>
<line x1="387.10" y1="226.64" x2="388.50" y2="226.64" stroke="#222" stroke-width="0.8"/>
<line x1="387.10" y1="223.83" x2="388.50" y2="223.83" stroke="#222" stroke-width="0.8"/>
<line x1="387.10" y1="221.03" x2="388.50" y2="221.03" stroke="#222" stroke-width="0.8"/>
<line x1="387.10" y1="218.22" x2="388.50" y2="218.22" stroke="#222" stroke-width="0.8"/>
<line x1="387.10" y1="215.42" x2="388.50" y2="215.42" stroke="#222" stroke-width="0.8"/>
<line x1="387.10" y1="212.62" x2="388.50" y2="212.62" stroke="#222" stroke-width="0.8"/>
<line x1="387.10" y1="209.81" x2="388.50" y2="209.81" stroke="#222" stroke-width="0.8"/>
<line x1="387.10" y1="207.01" x2="388.50" y2="207.01" stroke="#222" stroke-width="0.8"/>
<line x1="387.10" y1="204.20" x2="388.50" y2="204.20" stroke="#222" stroke-width="0.8"/>
<line x1="387.10" y1="201.40" x2="388.50" y2="201.40" stroke="#222" stroke-width="0.8"/>
<line x1="386.00" y1="341.60" x2="388.50" y2="341.60" stroke="#222" stroke-width="0.8"/>
<text x="380.90" y="343.95" font-size="4.9" font-weight="bold" text-anchor="end" fill="#000" stroke="#000" stroke-width="0.18">0</text>
<line x1="386.00" y1="327.58" x2="388.50" y2="327.58" stroke="#222" stroke-width="0.8"/>
<text x="380.90" y="329.93" font-size="4.9" font-weight="bold" text-anchor="end" fill="#000" stroke="#000" stroke-width="0.18">10</text>
<line x1="386.00" y1="313.56" x2="388.50" y2="313.56" stroke="#222" stroke-width="0.8"/>
<text x="380.90" y="315.91" font-size="4.9" font-weight="bold" text-anchor="end" fill="#000" stroke="#000" stroke-width="0.18">20</text>
<line x1="386.00" y1="299.54" x2="388.50" y2="299.54" stroke="#222" stroke-width="0.8"/>
<text x="380.90" y="301.89" font-size="4.9" font-weight="bold" text-anchor="end" fill="#000" stroke="#000" stroke-width="0.18">30</text>
<line x1="386.00" y1="285.52" x2="388.50" y2="285.52" stroke="#222" stroke-width="0.8"/>
<text x="380.90" y="287.87" font-size="4.9" font-weight="bold" text-anchor="end" fill="#000" stroke="#000" stroke-width="0.18">40</text>
<line x1="386.00" y1="271.50" x2="388.50" y2="271.50" stroke="#222" stroke-width="0.8"/>
<text x="380.90" y="273.85" font-size="4.9" font-weight="bold" text-anchor="end" fill="#000" stroke="#000" stroke-width="0.18">50</text>
<line x1="386.00" y1="257.48" x2="388.50" y2="257.48" stroke="#222" stroke-width="0.8"/>
<text x="380.90" y="259.83" font-size="4.9" font-weight="bold" text-anchor="end" fill="#000" stroke="#000" stroke-width="0.18">60</text>
<line x1="386.00" y1="243.46" x2="388.50" y2="243.46" stroke="#222" stroke-width="0.8"/>
<text x="380.90" y="245.81" font-size="4.9" font-weight="bold" text-anchor="end" fill="#000" stroke="#000" stroke-width="0.18">70</text>
<line x1="386.00" y1="229.44" x2="388.50" y2="229.44" stroke="#222" stroke-width="0.8"/>
<text x="380.90" y="231.79" font-size="4.9" font-weight="bold" text-anchor="end" fill="#000" stroke="#000" stroke-width="0.18">80</text>
<line x1="386.00" y1="215.42" x2="388.50" y2="215.42" stroke="#222" stroke-width="0.8"/>
<text x="380.90" y="217.77" font-size="4.9" font-weight="bold" text-anchor="end" fill="#000" stroke="#000" stroke-width="0.18">90</text>
<line x1="386.00" y1="201.40" x2="388.50" y2="201.40" stroke="#222" stroke-width="0.8"/>
<text x="380.90" y="203.75" font-size="4.9" font-weight="bold" text-anchor="end" fill="#000" stroke="#000" stroke-width="0.18">100</text>
<text x="361.70" y="202.80" font-size="12.3" font-weight="bold" text-anchor="start" fill="#000" stroke="#000" stroke-width="0.18">E</text>
<text x="365.30" y="271.20" font-size="5.6" font-weight="bold" text-anchor="middle" fill="#000" textLength="48.90" lengthAdjust="spacingAndGlyphs" transform="rotate(-90 365.30 271.20)">(% of positive cells)</text>
<line x1="409.40" y1="289.80" x2="409.40" y2="301.00" stroke="#222" stroke-width="0.75"/>
<line x1="407.80" y1="289.80" x2="411.00" y2="289.80" stroke="#222" stroke-width="0.75"/>
<line x1="427.10" y1="266.60" x2="427.10" y2="277.20" stroke="#222" stroke-width="0.75"/>
<line x1="425.50" y1="266.60" x2="428.70" y2="266.60" stroke="#222" stroke-width="0.75"/>
<line x1="445.50" y1="217.60" x2="445.50" y2="230.70" stroke="#222" stroke-width="0.75"/>
<line x1="443.90" y1="217.60" x2="447.10" y2="217.60" stroke="#222" stroke-width="0.75"/>
<rect x="418.45" y="277.55" width="17.70" height="64.05" fill="#898989" stroke="#5a5a5a" stroke-width="0.7"/>
<rect x="436.50" y="230.70" width="18.10" height="110.90" fill="#000" stroke="none" stroke-width="0.8"/>
<rect x="400.80" y="301.00" width="17.30" height="40.60" fill="#fff" stroke="#333" stroke-width="0.8"/>
<text x="418.90" y="212.60" font-size="5.4" font-weight="bold" text-anchor="start" fill="#000" stroke="#000" stroke-width="0.18" textLength="21.40" lengthAdjust="spacingAndGlyphs">p= 0.002</text>
<line x1="414.70" y1="215.30" x2="443.60" y2="215.30" stroke="#444" stroke-width="0.8"/>
<text x="427.60" y="354.50" font-size="6.4" font-weight="bold" text-anchor="middle" fill="#000" stroke="#000" stroke-width="0.18" textLength="63.70" lengthAdjust="spacingAndGlyphs">TLR4-expressing Treg</text>
<line x1="389.30" y1="358.30" x2="389.30" y2="361.50" stroke="#333" stroke-width="0.9"/>
<line x1="470.30" y1="358.30" x2="470.30" y2="361.50" stroke="#333" stroke-width="0.9"/>
<line x1="389.30" y1="361.50" x2="470.30" y2="361.50" stroke="#333" stroke-width="0.9"/>
<text x="427.30" y="371.00" font-size="8.3" font-weight="bold" text-anchor="middle" fill="#000" stroke="#000" stroke-width="0.18" textLength="54.60" lengthAdjust="spacingAndGlyphs">LPS-stimulated</text>
</svg>
</body></html>
